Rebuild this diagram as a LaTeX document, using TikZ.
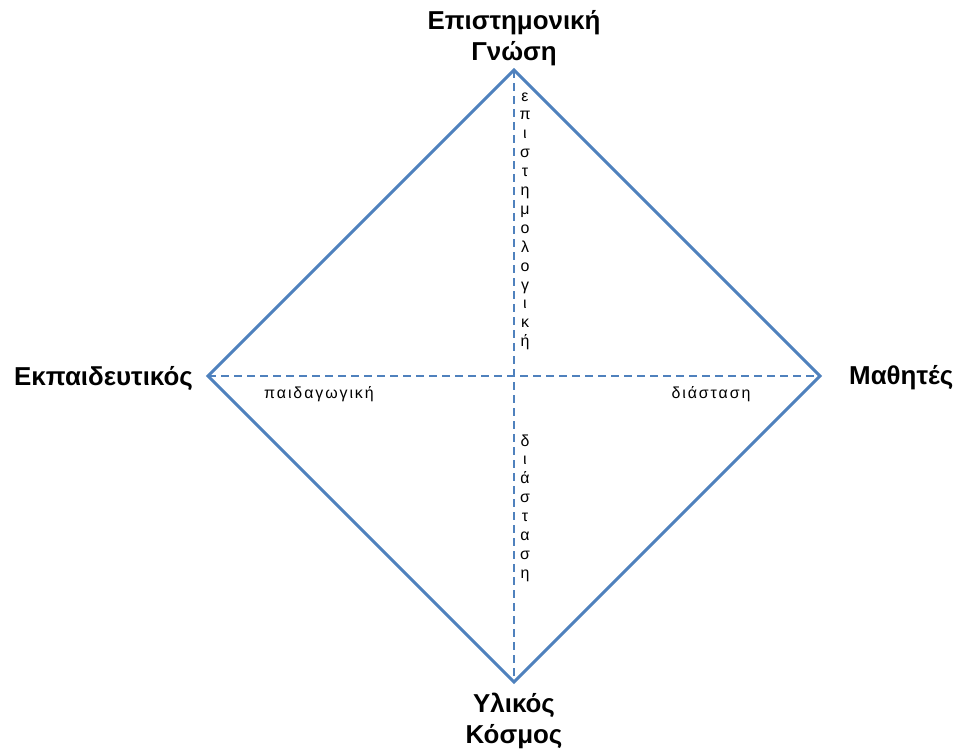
\documentclass[tikz,border=0pt]{standalone}
\usepackage{fontspec}
\setmainfont{Liberation Sans}
\usepackage{xcolor}
\definecolor{diablue}{RGB}{79,129,189}

\begin{document}
\begin{tikzpicture}[
    x=1bp, y=-1bp,
    edge/.style={draw=diablue, line width=3bp, line join=miter},
    axis/.style={draw=diablue, line width=1.7bp, dash pattern=on 8bp off 5bp},
    corner/.style={font=\bfseries\fontsize{26}{31}\selectfont, align=center, inner sep=0pt},
    lab/.style={font=\fontsize{16}{18}\selectfont\addfontfeature{LetterSpace=12},
                inner sep=0pt, anchor=base},
    letter/.style={font=\fontsize{16}{18}\selectfont, inner sep=0pt, anchor=base},
  ]
  \useasboundingbox (0,0) rectangle (958,751);

  %% ---- corners of the diamond ----------------------------------------
  \coordinate (T) at (514,70);
  \coordinate (L) at (208,376);
  \coordinate (R) at (820,376);
  \coordinate (B) at (514,682);

  \draw[edge] (T) -- (R) -- (B) -- (L) -- cycle;
  \draw[axis] (L) -- (R);
  \draw[axis] (T) -- (B);

  %% ---- corner labels -------------------------------------------------
  \node[corner] (know)    at (514,38)  {Επιστημονική\\Γνώση};
  \node[corner, anchor=east] (teacher) at (193,378) {Εκπαιδευτικός};
  \node[corner, anchor=west] (pupils)  at (849,378) {Μαθητές};
  \node[corner] (world)   at (514,721) {Υλικός\\Κόσμος};

  %% ---- axis labels ---------------------------------------------------
  \node[lab] (ped) at (319,398) {παιδαγωγική};
  \node[lab] (dim) at (711,398) {διάσταση};
  \foreach \c [count=\i] in {ε,π,ι,σ,τ,η,μ,ο,λ,ο,γ,ι,κ,ή}
    \node[letter] (ep\i) at (525,{101+(\i-1)*18.9}) {\c};
  \foreach \c [count=\i] in {δ,ι,ά,σ,τ,α,σ,η}
    \node[letter] (di\i) at (525,{446+(\i-1)*18.9}) {\c};

\end{tikzpicture}
\end{document}
